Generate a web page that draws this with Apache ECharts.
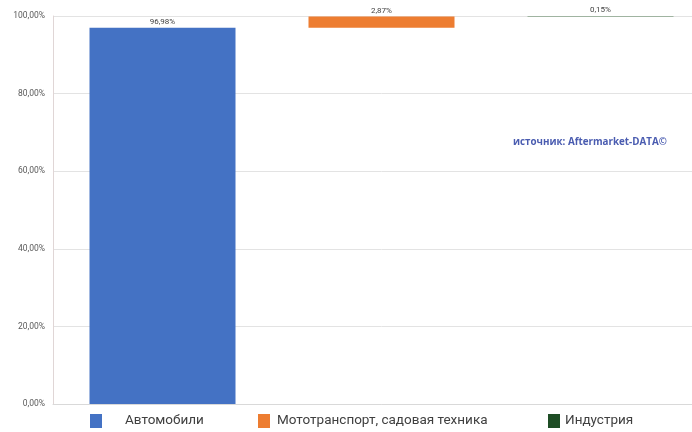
<!DOCTYPE html>
<html><head><meta charset="utf-8">
<script src="https://cdn.jsdelivr.net/npm/echarts@6/dist/echarts.min.js"></script>
<style>html,body{margin:0;padding:0;background:#fff;overflow:hidden}#c{width:710px;height:432px}</style>
</head><body><div id="c"></div>
<script>
const categories = ['Автомобили', 'Мототранспорт, садовая техника', 'Индустрия'];
const values = [96.98, 2.87, 0.15];
const colors = ['#4472C4', '#ED7D31', '#5E8660'];
const legendColors = ['#4472C4', '#ED7D31', '#1E4D25'];
const yTicks = [0, 20, 40, 60, 80, 100];
const sourceText = 'источник: Aftermarket-DATA©';

const fmt = v => v.toFixed(2).replace('.', ',') + '%';
const bases = [];
let acc = 0;
values.forEach(v => { bases.push(acc); acc += v; });

const series = [{
  type: 'bar', stack: 'w', silent: true,
  data: bases, itemStyle: { color: 'transparent' }, barWidth: 146
}];
categories.forEach((c, i) => {
  series.push({
    name: c, type: 'bar', stack: 'w', barWidth: 146,
    data: values.map((v, j) => j === i ? v : '-'),
    itemStyle: { color: colors[i] },
    label: { show: true, position: 'top', formatter: p => fmt(p.value), fontSize: 8, color: '#404040', fontFamily: 'Roboto', distance: 2 }
  });
});

const legendLefts = [85, 253, 543];
const legendPads = [18, 2, 0];
const legends = categories.map((c, i) => ({
  data: [{ name: c, itemStyle: { color: legendColors[i] } }],
  left: legendLefts[i], top: 409, itemWidth: 12, itemHeight: 14, icon: 'rect',
  textStyle: { fontSize: 13.5, color: '#404040', fontFamily: 'Roboto', padding: [0, 0, 0, legendPads[i]] }
}));

const chart = echarts.init(document.getElementById('c'));
chart.setOption({
  animation: false,
  grid: { left: 53, right: 0, top: 16, bottom: 28 },
  xAxis: { type: 'category', data: categories, axisLabel: { show: false }, axisTick: { show: false },
    axisLine: { show: true, lineStyle: { color: '#d9d9d9' } } },
  yAxis: { type: 'value', min: yTicks[0], max: yTicks[yTicks.length - 1], interval: 20,
    axisLabel: { formatter: v => fmt(v), fontSize: 8.5, color: '#595959', fontFamily: 'Roboto', margin: 8 },
    axisLine: { show: true, lineStyle: { color: '#e0d6d6' } },
    splitLine: { lineStyle: { color: '#e3e3e3' } } },
  legend: legends,
  series: series,
  graphic: [{ type: 'text', left: 513, top: 137,
    style: { text: sourceText, fontSize: 9.8, fontWeight: 'bold', fill: '#4a5cb0', fontFamily: 'Open Sans' } }]
});
</script></body></html>
